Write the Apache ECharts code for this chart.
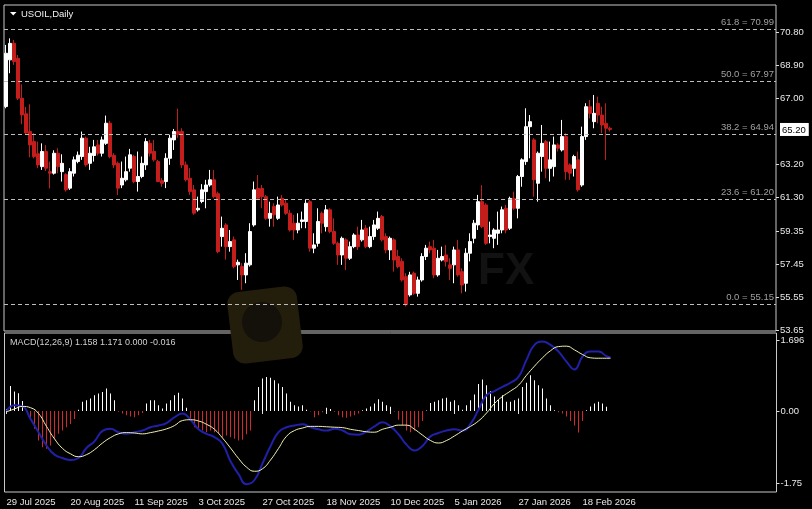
<!DOCTYPE html>
<html>
<head>
<meta charset="utf-8">
<script src="https://cdn.jsdelivr.net/npm/echarts@6/dist/echarts.min.js"></script>
<style>
html,body{margin:0;padding:0;background:#000;}
#chart{width:812px;height:509px;}
</style>
</head>
<body>
<div id="chart"></div>
<script>
// ---------- data ----------
const title = 'USOIL,Daily';
const macdLabel = 'MACD(12,26,9) 1.158 1.171 0.000 -0.016';
const tickLabels = ['29 Jul 2025','20 Aug 2025','11 Sep 2025','3 Oct 2025','27 Oct 2025','18 Nov 2025','10 Dec 2025','5 Jan 2026','27 Jan 2026','18 Feb 2026'];
const priceTicks = [70.80, 68.90, 67.00, 65.20, 63.20, 61.30, 59.35, 57.45, 55.55, 53.65];
const lastPrice = 65.20;
const macdTicks = [1.696, 0, -1.75];
const fibLevels = [61.8, 50.0, 38.2, 23.6, 0.0];
const fibPrices = [70.99, 67.97, 64.94, 61.20, 55.15];

const open = [66.52,69.21,70.16,69.30,67.00,66.10,65.08,64.50,63.80,63.06,
63.93,62.77,62.68,63.83,62.77,62.60,61.82,62.68,63.35,63.64,
64.70,63.25,63.70,64.31,63.83,64.40,65.56,63.70,63.25,62.00,
62.30,62.97,63.64,62.20,62.49,63.16,64.40,63.93,63.35,62.25,
62.20,63.54,64.60,65.08,65.08,63.16,62.39,61.72,60.57,61.05,
61.62,62.00,62.30,61.50,59.03,59.70,58.45,58.84,57.40,57.30,
56.82,57.40,59.70,61.80,61.80,61.33,60.08,60.76,60.08,61.24,
60.95,60.37,59.80,59.41,59.90,59.90,61.04,58.36,58.64,60.37,
59.60,60.57,59.32,58.64,57.97,58.84,57.78,58.45,59.12,58.84,
59.51,58.45,59.03,59.51,60.18,59.03,58.26,58.84,57.88,57.60,
56.72,55.67,56.92,55.76,56.53,57.88,58.45,58.36,56.82,57.68,
57.97,57.40,57.40,58.26,57.01,56.34,58.07,58.93,59.70,61.04,
60.85,59.03,58.93,59.22,59.41,60.66,59.51,61.23,60.66,62.49,
63.35,65.36,64.60,62.10,63.64,64.50,62.96,63.06,64.31,64.02,
64.79,63.16,62.96,63.45,62.00,64.79,66.51,65.65,66.71,66.03,
65.55,65.27];
const close = [69.59,70.16,69.11,67.00,66.04,65.00,64.31,63.64,63.16,63.93,
62.97,62.68,63.83,63.06,63.25,61.72,62.77,63.45,63.72,64.70,
63.16,63.83,64.20,63.83,64.60,65.56,63.64,63.16,61.82,62.39,
62.77,63.74,62.20,62.49,63.25,64.50,63.83,63.45,62.20,62.10,
63.54,64.70,65.08,64.90,63.16,62.30,61.62,60.38,60.66,61.72,
62.00,62.30,61.33,58.16,59.51,58.45,58.74,57.30,57.55,56.82,
57.50,59.32,61.72,61.24,61.33,60.08,60.37,60.28,60.85,60.85,
60.37,59.41,59.41,59.80,59.99,60.95,58.36,58.55,59.90,59.80,
60.57,59.32,58.64,57.97,58.93,57.78,58.45,59.12,58.45,59.41,
58.45,59.03,59.70,60.08,58.84,58.26,58.93,57.68,57.30,56.53,
55.10,56.82,55.76,56.53,57.88,58.36,58.26,56.82,57.78,57.88,
57.60,57.20,58.26,56.82,56.24,58.07,58.74,59.80,61.04,59.60,
58.64,59.12,59.41,59.41,60.57,59.41,61.23,60.66,62.49,63.45,
65.36,65.65,62.30,63.83,64.40,62.96,63.45,64.31,64.12,64.79,
62.77,62.68,63.64,61.72,64.79,66.51,66.13,66.13,66.03,65.46,
65.27,65.20];
const high = [70.07,70.45,70.36,69.49,67.80,66.50,66.65,64.98,64.50,64.40,
64.30,63.35,64.00,64.12,63.77,62.68,62.97,63.64,63.93,65.08,
64.79,64.20,64.60,64.60,64.79,66.00,65.70,63.83,63.35,63.35,
63.64,64.08,63.74,63.93,63.64,64.70,64.60,64.60,63.45,62.40,
63.83,64.90,65.23,66.40,65.27,63.35,62.97,62.00,61.33,62.05,
62.30,62.87,62.87,61.62,60.18,59.80,59.41,59.03,57.70,57.50,
58.07,59.80,62.20,62.58,62.00,61.43,61.04,60.95,61.33,61.43,
61.14,60.57,60.28,60.37,60.47,61.14,61.14,59.22,60.66,60.47,
60.85,60.66,60.08,58.74,59.03,58.93,58.74,59.22,59.60,59.99,
59.70,59.60,59.99,60.47,60.28,59.22,59.03,58.93,58.26,57.78,
56.92,57.00,57.01,56.72,58.07,58.55,58.74,58.84,58.26,58.45,
58.55,57.78,58.45,58.84,57.20,58.36,59.22,59.99,61.43,61.99,
60.95,59.89,59.51,60.47,60.76,60.85,61.33,61.62,62.58,63.54,
66.42,66.03,64.70,63.93,65.46,64.60,64.50,64.79,64.40,65.75,
64.98,63.25,63.74,63.93,65.36,66.71,66.90,67.19,67.09,66.51,
66.71,65.36];
const low = [66.42,68.44,68.92,66.90,65.50,64.90,63.60,63.54,62.97,62.87,
62.80,61.80,62.60,62.68,62.20,61.62,61.72,62.49,63.25,63.45,
63.06,62.87,63.35,63.70,63.64,64.31,63.54,62.97,61.43,61.82,
62.20,62.77,62.10,61.62,62.39,62.87,63.64,63.35,62.16,61.90,
61.82,63.16,64.02,64.70,62.97,62.20,61.43,60.28,60.47,60.95,
60.66,61.90,61.24,58.07,58.45,57.70,58.16,57.20,56.53,55.96,
56.34,57.30,59.60,61.14,60.66,59.99,59.60,59.60,59.99,60.76,
60.28,59.32,58.84,59.22,59.51,59.51,58.16,58.07,58.45,59.22,
59.32,59.22,58.55,57.40,57.40,57.10,57.68,58.36,58.26,58.74,
58.36,58.36,58.84,59.41,58.74,58.07,57.68,57.01,57.20,56.43,
55.00,55.57,55.67,55.57,56.43,57.68,58.07,56.63,56.72,57.60,
57.30,56.53,56.34,56.72,55.76,55.86,57.60,58.64,59.41,59.51,
58.55,58.64,58.36,58.55,59.22,59.22,59.41,60.57,60.08,61.90,
63.16,63.54,61.33,61.04,62.77,62.39,62.20,62.49,63.93,63.93,
62.30,62.30,62.49,61.62,61.90,64.60,65.84,65.27,65.55,64.98,
63.45,65.08];

const macdHist = [0.05,0.60,0.47,0.43,0.24,-0.02,-0.19,-0.43,-0.71,-0.87,
-0.91,-0.83,-0.67,-0.55,-0.47,-0.39,-0.31,-0.19,0.03,0.22,
0.26,0.30,0.38,0.42,0.46,0.54,0.42,0.26,-0.02,-0.06,
-0.10,-0.13,-0.15,-0.10,-0.05,0.18,0.26,0.26,0.14,0.06,
0.18,0.26,0.38,0.44,0.30,0.08,-0.24,-0.39,-0.45,-0.47,
-0.51,-0.47,-0.51,-0.55,-0.63,-0.59,-0.63,-0.67,-0.71,-0.69,
-0.56,-0.47,0.26,0.58,0.78,0.82,0.80,0.74,0.66,0.58,
0.42,0.22,0.14,0.11,0.14,0.03,-0.01,-0.15,-0.10,-0.03,
0.08,0.05,-0.02,-0.10,-0.15,-0.16,-0.13,-0.10,-0.06,0.02,
0.06,0.11,0.18,0.28,0.22,0.14,0.10,-0.01,-0.21,-0.35,
-0.47,-0.51,-0.47,-0.39,-0.24,0.01,0.19,0.22,0.26,0.30,
0.32,0.22,0.26,0.14,0.03,0.14,0.26,0.40,0.65,0.76,
0.62,0.48,0.35,0.27,0.38,0.22,0.22,0.26,0.30,0.58,
0.68,0.86,0.74,0.62,0.54,0.30,0.14,0.02,-0.03,-0.06,
-0.13,-0.24,-0.35,-0.52,-0.24,0.02,0.11,0.18,0.22,0.18,
0.10,0.00];
// line readings taken every second bar (plus the last bar)
const macdLineBars = [0,2,4,6,8,10,12,14,16,18,20,22,24,26,28,30,32,34,36,38,
40,42,44,46,48,50,52,54,56,58,60,62,64,66,68,70,72,74,76,78,
80,82,84,86,88,90,92,94,96,98,100,102,104,106,108,110,112,114,116,118,
120,122,124,126,128,130,132,134,136,138,140,142,144,146,148,150,151];
const signalLine = [-0.02,0.05,0.11,0.08,-0.06,-0.37,-0.67,-0.90,-1.03,-1.10,
-1.05,-0.93,-0.77,-0.64,-0.55,-0.52,-0.53,-0.55,-0.52,-0.48,
-0.43,-0.35,-0.23,-0.21,-0.24,-0.32,-0.44,-0.65,-0.89,-1.14,
-1.35,-1.45,-1.39,-1.18,-0.90,-0.61,-0.47,-0.41,-0.37,-0.37,
-0.38,-0.39,-0.40,-0.44,-0.47,-0.50,-0.51,-0.44,-0.39,-0.34,
-0.34,-0.44,-0.58,-0.71,-0.77,-0.71,-0.60,-0.48,-0.37,-0.24,
-0.05,0.18,0.35,0.48,0.62,0.86,1.08,1.28,1.45,1.55,
1.56,1.47,1.36,1.28,1.27,1.27,1.27];
const mainLine = [0.00,0.14,0.11,-0.19,-0.51,-0.83,-1.05,-1.13,-1.18,-1.13,
-0.89,-0.73,-0.48,-0.43,-0.51,-0.55,-0.51,-0.47,-0.39,-0.35,
-0.29,-0.15,-0.06,-0.21,-0.44,-0.55,-0.63,-0.79,-1.21,-1.52,
-1.76,-1.66,-1.26,-0.85,-0.51,-0.39,-0.35,-0.32,-0.39,-0.44,
-0.47,-0.43,-0.47,-0.56,-0.57,-0.49,-0.37,-0.27,-0.37,-0.56,
-0.81,-0.95,-0.84,-0.61,-0.53,-0.47,-0.44,-0.47,-0.31,0.03,
0.38,0.48,0.58,0.68,0.82,1.23,1.59,1.67,1.59,1.43,
1.19,1.00,1.31,1.43,1.43,1.32,1.29];

// ---------- categories: trading days from 29 Jul 2025 ----------
const MONTHS = ['Jan','Feb','Mar','Apr','May','Jun','Jul','Aug','Sep','Oct','Nov','Dec'];
const holidays = ['2025-12-25','2026-01-01'];
const totalSlots = 193; // bars + empty right-hand shift area
const categories = [];
(function(){
  const d = new Date(Date.UTC(2025,6,29));
  while (categories.length < close.length) {
    const wd = d.getUTCDay();
    const iso = d.toISOString().slice(0,10);
    if (wd !== 0 && wd !== 6 && holidays.indexOf(iso) < 0) {
      categories.push(d.getUTCDate() + ' ' + MONTHS[d.getUTCMonth()] + ' ' + d.getUTCFullYear());
    }
    d.setUTCDate(d.getUTCDate() + 1);
  }
  while (categories.length < totalSlots) categories.push('');
})();

// ---------- build ----------
const candleData = open.map((o,i) => [o, close[i], low[i], high[i]]);
const signalData = macdLineBars.map((b,i) => [b, signalLine[i]]);
const mainData = macdLineBars.map((b,i) => [b, mainLine[i]]);
const FONT = 'Liberation Sans';
const showTick = (idx) => idx % 16 === 0 && idx < close.length;

const chart = echarts.init(document.getElementById('chart'), null, {renderer:'canvas'});
const option = {
  backgroundColor: '#000000',
  animation: false,
  textStyle: {fontFamily: FONT},
  grid: [
    {left:4, top:5, width:772, height:326, show:true, borderColor:'#c8c8c8', borderWidth:1, backgroundColor:'transparent'},
    {left:4.5, top:333, width:772, height:159, show:true, borderColor:'#c8c8c8', borderWidth:1, backgroundColor:'transparent'}
  ],
  xAxis: [
    {type:'category', gridIndex:0, data:categories, boundaryGap:true,
     axisLine:{show:false}, axisTick:{show:false}, axisLabel:{show:false}, splitLine:{show:false}},
    {type:'category', gridIndex:1, data:categories, boundaryGap:true,
     axisLine:{show:false},
     axisTick:{show:true, alignWithLabel:true, length:3, interval:(idx)=>showTick(idx), lineStyle:{color:'#dddddd'}},
     axisLabel:{show:true, interval:(idx)=>showTick(idx), align:'left', margin:5,
       color:'#e8e8e8', fontSize:9.5, fontFamily:FONT,
       formatter:(v,idx)=> tickLabels[Math.round(idx/16)] || ''},
     splitLine:{show:false}}
  ],
  yAxis: [
    {type:'value', gridIndex:0, position:'right', min:53.59, max:72.37, scale:true,
     axisLine:{show:false}, splitLine:{show:false},
     axisTick:{show:true, length:3, customValues:priceTicks.filter(v=>v!==lastPrice), lineStyle:{color:'#dddddd'}},
     axisLabel:{show:true, margin:4, customValues:priceTicks, color:'#e8e8e8', fontSize:9.5, fontFamily:FONT,
       formatter:(v)=> Math.abs(v-lastPrice)<1e-6 ? '{cur|'+v.toFixed(2)+'}' : v.toFixed(2),
       rich:{cur:{backgroundColor:'#ffffff', color:'#000000', fontSize:9.5, fontFamily:FONT, padding:[2,3,1,2]}}}},
    {type:'value', gridIndex:1, position:'right', min:-1.949, max:1.877,
     axisLine:{show:false}, splitLine:{show:false},
     axisTick:{show:true, length:3, customValues:macdTicks, lineStyle:{color:'#dddddd'}},
     axisLabel:{show:true, margin:4, customValues:macdTicks, color:'#e8e8e8', fontSize:9.5, fontFamily:FONT,
       formatter:(v)=> Math.abs(v-1.696)<1e-6 ? '1.696' : v.toFixed(2)}}
  ],
  graphic: [
    {type:'rect', z:0, shape:{x:230, y:289, width:70, height:72, r:12}, rotation:0.12, originX:265, originY:325,
     style:{fill:'#231e0c'}},
    {type:'circle', z:0, shape:{cx:262, cy:322, r:20}, style:{fill:'#14110a'}},
    {type:'text', z:0, left:478, top:250, style:{text:'FX', fill:'#121212', font:'bold 44px '+FONT}},
    {type:'polygon', z:10, shape:{points:[[10,12],[16.5,12],[13.25,15.5]]}, style:{fill:'#ffffff'}},
    {type:'text', z:10, left:21, top:9, style:{text:title, fill:'#f0f0f0', font:'9.5px '+FONT}},
    {type:'text', z:10, left:10, top:338, style:{text:macdLabel, fill:'#d0d0d0', font:'9px '+FONT}}
  ],
  series: [
    {type:'candlestick', xAxisIndex:0, yAxisIndex:0, data:candleData, barWidth:3, z:3,
     itemStyle:{color:'#ffffff', color0:'#c41e1c', borderColor:'#ffffff', borderColor0:'#c41e1c', borderWidth:1},
     markLine:{silent:true, symbol:['none','none'], animation:false,
       lineStyle:{color:'#bdbdbd', type:[4,3], width:1},
       label:{position:'insideEndTop', color:'#a0a0a0', fontSize:9.5, fontFamily:FONT, distance:[2,2]},
       data: fibPrices.map((p,i)=>({yAxis:p, label:{formatter: fibLevels[i].toFixed(1)+' = '+p.toFixed(2)}}))}
    },
    {type:'bar', xAxisIndex:1, yAxisIndex:1, data:macdHist, barWidth:1, z:3,
     itemStyle:{color:(p)=> p.value >= 0 ? '#ffffff' : '#d22a2a'}},
    {type:'line', xAxisIndex:1, yAxisIndex:1, data:mainData, smooth:true, symbol:'none', z:4,
     lineStyle:{color:'#2020a8', width:2}},
    {type:'line', xAxisIndex:1, yAxisIndex:1, data:signalData, smooth:true, symbol:'none', z:5,
     lineStyle:{color:'#f4f4b4', width:1}}
  ]
};
chart.setOption(option);
</script>
</body>
</html>
